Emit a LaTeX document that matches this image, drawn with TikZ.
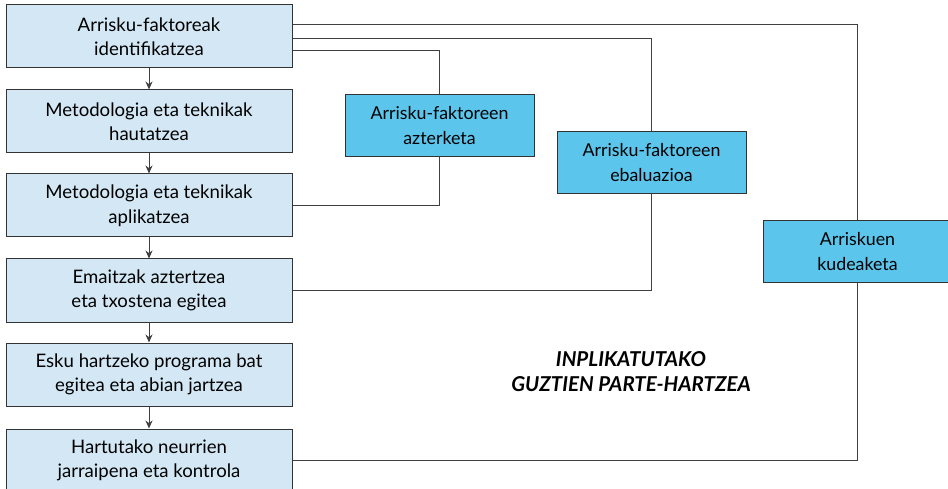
\documentclass[tikz,border=0pt]{standalone}
\usepackage{fontspec}
\setmainfont{Lato}
\usetikzlibrary{arrows.meta}

\tikzset{
  urratsa/.style={draw=black!80, line width=1pt, fill=urdinargi, minimum width=286pt, minimum height=63pt,
    align=center, font=\fontsize{18.6}{24.5}\selectfont, inner sep=0pt},
  fasea/.style={draw=black!80, line width=1pt, fill=urdina, minimum width=189pt, minimum height=62pt,
    align=center, font=\fontsize{17.8}{25}\selectfont, inner sep=0pt},
  lotura/.style={draw=black!75, line width=1pt},
}
\definecolor{urdinargi}{HTML}{D3E8F4}
\definecolor{urdina}{HTML}{5BC5EC}

\begin{document}
\begin{tikzpicture}[x=1pt, y=-1pt, >={Stealth[length=8pt,width=7pt]}]
    \useasboundingbox[fill=white] (0,0) rectangle (948,489);

    \node[urratsa] (ident) at (149, 36.5) {Arrisku-faktoreak\\identifikatzea};
    \node[urratsa] (haut) at (149, 121.5) {Metodologia eta teknikak\\hautatzea};
    \node[urratsa] (apli) at (149, 205.5) {Metodologia eta teknikak\\aplikatzea};
    \node[urratsa] (emai) at (149, 290.5) {Emaitzak aztertzea\\eta txostena egitea};
    \node[urratsa] (esku) at (149, 374.5) {Esku hartzeko programa bat\\egitea eta abian jartzea};
    \node[urratsa] (kont) at (149, 460.5) {Hartutako neurrien\\jarraipena eta kontrola};

    \node[fasea] (azter) at (439.5, 126) {Arrisku-faktoreen\\azterketa};
    \node[fasea] (ebal) at (651.5, 163) {Arrisku-faktoreen\\ebaluazioa};
    \node[fasea] (kude) at (857.5, 251.5) {Arriskuen\\kudeaketa};

    \node[font=\fontsize{20.5}{25}\selectfont\bfseries\itshape, align=center] (parte) at (631, 372)
      {INPLIKATUTAKO\\GUZTIEN PARTE-HARTZEA};

    \draw[lotura, ->] (ident) -- (haut);
    \draw[lotura, ->] (haut) -- (apli);
    \draw[lotura, ->] (apli) -- (emai);
    \draw[lotura, ->] (emai) -- (esku);
    \draw[lotura, ->] (esku) -- (kont);

    % faseak
    \draw[lotura] (ident.east |- 0,51) -| (azter.north);
    \draw[lotura] (azter.south) |- (apli.east);
    \draw[lotura] (ident.east |- 0,39) -| (ebal.north);
    \draw[lotura] (ebal.south) |- (emai.east);
    \draw[lotura] (ident.east |- 0,25) -| (kude.north);
    \draw[lotura] (kude.south) |- (kont.east);
\end{tikzpicture}
\end{document}
